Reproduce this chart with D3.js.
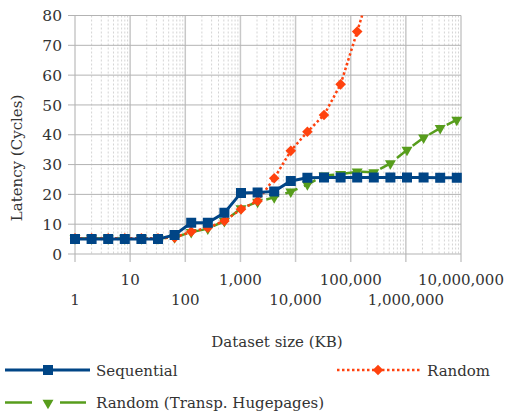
<!DOCTYPE html>
<html><head><meta charset="utf-8">
<script src="https://cdn.jsdelivr.net/npm/d3@7"></script>
<style>
html,body{margin:0;padding:0;background:#fff;}
svg{display:block;font-family:"DejaVu Serif",serif;}
</style></head><body>
<svg id="c" width="506" height="416"></svg>
<script>
// Dataset sizes (KB)
const sizesKB = [1,2,4,8,16,32,64,128,256,512,1024,2048,4096,8192,16384,32768,65536,131072,262144,524288,1048576,2097152,4194304,8388608];
const sequential = [5,5,5,5,5,5,6.4,10.5,10.5,13.8,20.5,20.6,21,24.5,25.6,25.7,25.7,25.7,25.7,25.7,25.7,25.7,25.6,25.6];
const random = [5.3,5.3,5.3,5.3,5.3,5.3,5.5,7.5,8.8,11.1,15,17.8,25.4,34.6,41,46.6,56.9,74.6,93];
const randomTHP = [5.2,5.2,5.2,5.2,5.2,5.2,5.6,7.3,8.5,11,15.3,17.5,19,20.9,23.3,26.3,26.8,27.6,27.4,30.4,34.9,39,42.2,45];
const xTicks = [1,10,100,1000,10000,100000,1000000,10000000];
const yTicks = [0,10,20,30,40,50,60,70,80];
const seriesNames = ["Sequential","Random","Random (Transp. Hugepages)"];

const svg = d3.select("#c");
const L=75, R=461, T=15.5, B=254;
const x = d3.scaleLog().domain([1,1e7]).range([L,R]);
const y = d3.scaleLinear().domain([0,80]).range([B,T]);
const fmt = d3.format(",");

// minor vertical grid
const minors=[];
for(let d=1; d<1e7; d*=10){ for(let k=2;k<10;k++) minors.push(d*k); }
svg.append("g").selectAll("line").data(minors).join("line")
  .attr("x1",d=>x(d)).attr("x2",d=>x(d)).attr("y1",T).attr("y2",B)
  .attr("stroke","#d4d4d4").attr("stroke-width",1).attr("stroke-dasharray","2,2");
// major vertical grid
svg.append("g").selectAll("line").data(xTicks).join("line")
  .attr("x1",d=>x(d)).attr("x2",d=>x(d)).attr("y1",T).attr("y2",B+8)
  .attr("stroke","#c8c8c8").attr("stroke-width",1.5);
// horizontal grid
svg.append("g").selectAll("line").data(yTicks).join("line")
  .attr("x1",L-7).attr("x2",R).attr("y1",d=>y(d)).attr("y2",d=>y(d))
  .attr("stroke","#b3b3b3").attr("stroke-width",1);

// y labels
svg.append("g").selectAll("text").data(yTicks).join("text")
  .attr("x",62).attr("y",d=>y(d)).attr("dy","0.36em").attr("text-anchor","end")
  .attr("font-size",15.5).attr("fill","#333").text(d=>d);
// x labels (staggered)
svg.append("g").selectAll("text").data(xTicks).join("text")
  .attr("x",d=>x(d)).attr("y",(d,i)=> i%2===1 ? 285 : 305)
  .attr("text-anchor","middle").attr("font-size",15).attr("fill","#333").text(d=>fmt(d));

// axis titles
svg.append("text").attr("transform","translate(22,158) rotate(-90)")
  .attr("text-anchor","middle").attr("font-size",15).attr("fill","#333").text("Latency (Cycles)");
svg.append("text").attr("x",277).attr("y",347)
  .attr("text-anchor","middle").attr("font-size",15).attr("fill","#333").text("Dataset size (KB)");

// clip
svg.append("clipPath").attr("id","plot").append("rect")
  .attr("x",L-8).attr("y",T).attr("width",R-L+16).attr("height",B-T+8);
const plot = svg.append("g").attr("clip-path","url(#plot)");

const blue="#004586", orange="#ff420e", green="#579d1c";
const line = d3.line().x(d=>x(d[0])).y(d=>y(d[1]));
const zip = vals => vals.map((v,i)=>[sizesKB[i],v]);

const sq = d3.symbol().type(d3.symbolSquare).size(100)();
const dia = d3.symbol().type(d3.symbolSquare).size(56)();
const tri = d3.symbol().type(d3.symbolTriangle).size(52)();

function drawSeries(vals,color,dash,width,sym,rot){
  const pts=zip(vals);
  plot.append("path").attr("d",line(pts)).attr("fill","none").attr("stroke",color)
    .attr("stroke-width",width).attr("stroke-dasharray",dash);
  plot.append("g").selectAll("path").data(pts).join("path")
    .attr("d",sym).attr("fill",color)
    .attr("transform",d=>`translate(${x(d[0])},${y(d[1])}) rotate(${rot})`);
}
drawSeries(randomTHP,green,"13,7",2.5,tri,180);
drawSeries(random,orange,"2.5,2.5",2.5,dia,45);
drawSeries(sequential,blue,null,3,sq,0);

// legend
const lg = svg.append("g");
lg.append("line").attr("x1",5).attr("x2",90).attr("y1",370).attr("y2",370).attr("stroke",blue).attr("stroke-width",3);
lg.append("path").attr("d",sq).attr("fill",blue).attr("transform","translate(48,370)");
lg.append("text").attr("x",96).attr("y",375.5).attr("font-size",15).attr("fill","#333").text(seriesNames[0]);

lg.append("line").attr("x1",337).attr("x2",420).attr("y1",370).attr("y2",370).attr("stroke",orange).attr("stroke-width",2.5).attr("stroke-dasharray","2.5,2.5");
lg.append("path").attr("d",dia).attr("fill",orange).attr("transform","translate(378,370) rotate(45)");
lg.append("text").attr("x",427).attr("y",375.5).attr("font-size",15).attr("fill","#333").text(seriesNames[1]);

lg.append("line").attr("x1",5).attr("x2",32).attr("y1",402.5).attr("y2",402.5).attr("stroke",green).attr("stroke-width",2.5);
lg.append("line").attr("x1",60).attr("x2",86).attr("y1",402.5).attr("y2",402.5).attr("stroke",green).attr("stroke-width",2.5);
lg.append("path").attr("d",tri).attr("fill",green).attr("transform","translate(48,403) rotate(180)");
lg.append("text").attr("x",96).attr("y",408).attr("font-size",15).attr("fill","#333").text(seriesNames[2]);
</script></body></html>
